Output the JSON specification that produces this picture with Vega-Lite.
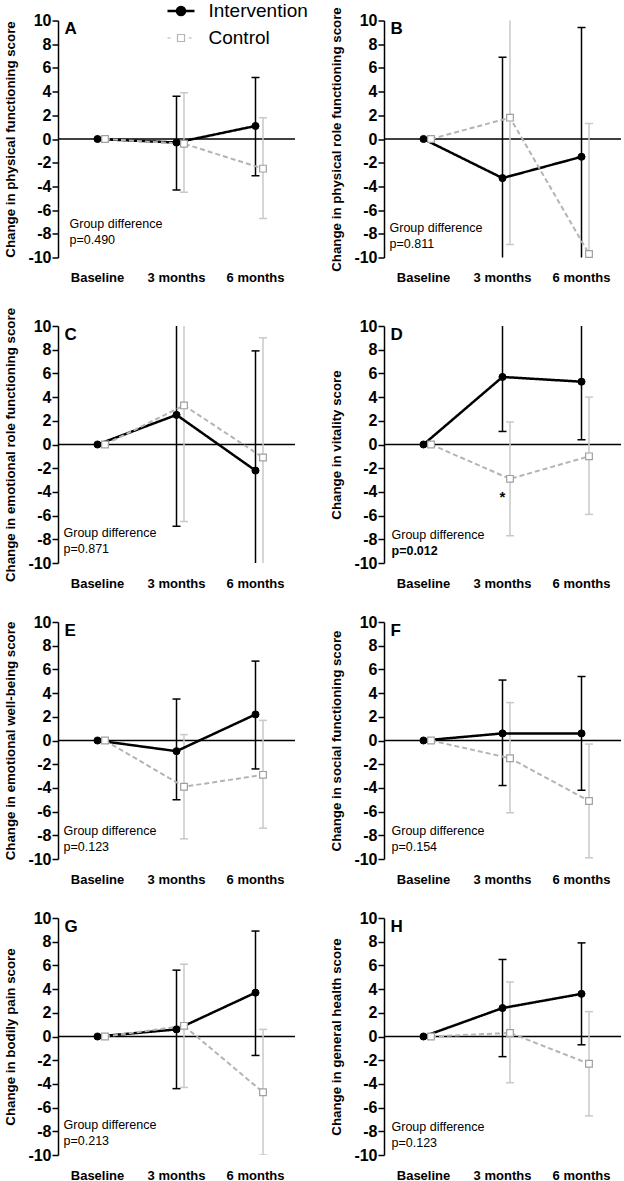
{
  "$schema": "https://vega.github.io/schema/vega-lite/v6.json",
  "autosize": {"type": "pad"},
  "padding": {"left": 3, "top": 1.5, "right": 2, "bottom": 5},
  "background": "#ffffff",
  "datasets": {
    "stats": [
      {"panel": "A", "group": "Intervention", "visit": "Baseline", "month": 0, "mean": 0, "lo": null, "hi": null},
      {"panel": "A", "group": "Intervention", "visit": "3 months", "month": 3, "mean": -0.3, "lo": -4.3, "hi": 3.6},
      {"panel": "A", "group": "Intervention", "visit": "6 months", "month": 6, "mean": 1.1, "lo": -3.1, "hi": 5.2},
      {"panel": "A", "group": "Control", "visit": "Baseline", "month": 0, "mean": 0, "lo": null, "hi": null},
      {"panel": "A", "group": "Control", "visit": "3 months", "month": 3, "mean": -0.4, "lo": -4.5, "hi": 3.9},
      {"panel": "A", "group": "Control", "visit": "6 months", "month": 6, "mean": -2.5, "lo": -6.7, "hi": 1.8},
      {"panel": "B", "group": "Intervention", "visit": "Baseline", "month": 0, "mean": 0, "lo": null, "hi": null},
      {"panel": "B", "group": "Intervention", "visit": "3 months", "month": 3, "mean": -3.3, "lo": -13.5, "hi": 6.9},
      {"panel": "B", "group": "Intervention", "visit": "6 months", "month": 6, "mean": -1.5, "lo": -12.4, "hi": 9.4},
      {"panel": "B", "group": "Control", "visit": "Baseline", "month": 0, "mean": 0, "lo": null, "hi": null},
      {"panel": "B", "group": "Control", "visit": "3 months", "month": 3, "mean": 1.8, "lo": -8.9, "hi": 12.5},
      {"panel": "B", "group": "Control", "visit": "6 months", "month": 6, "mean": -9.7, "lo": -20.7, "hi": 1.3},
      {"panel": "C", "group": "Intervention", "visit": "Baseline", "month": 0, "mean": 0, "lo": null, "hi": null},
      {"panel": "C", "group": "Intervention", "visit": "3 months", "month": 3, "mean": 2.5, "lo": -6.9, "hi": 11.9},
      {"panel": "C", "group": "Intervention", "visit": "6 months", "month": 6, "mean": -2.2, "lo": -12.3, "hi": 7.9},
      {"panel": "C", "group": "Control", "visit": "Baseline", "month": 0, "mean": 0, "lo": null, "hi": null},
      {"panel": "C", "group": "Control", "visit": "3 months", "month": 3, "mean": 3.3, "lo": -6.5, "hi": 13.1},
      {"panel": "C", "group": "Control", "visit": "6 months", "month": 6, "mean": -1.1, "lo": -11.2, "hi": 9.0},
      {"panel": "D", "group": "Intervention", "visit": "Baseline", "month": 0, "mean": 0, "lo": null, "hi": null},
      {"panel": "D", "group": "Intervention", "visit": "3 months", "month": 3, "mean": 5.7, "lo": 1.1, "hi": 10.3},
      {"panel": "D", "group": "Intervention", "visit": "6 months", "month": 6, "mean": 5.3, "lo": 0.4, "hi": 10.2},
      {"panel": "D", "group": "Control", "visit": "Baseline", "month": 0, "mean": 0, "lo": null, "hi": null},
      {"panel": "D", "group": "Control", "visit": "3 months", "month": 3, "mean": -2.9, "lo": -7.7, "hi": 1.9},
      {"panel": "D", "group": "Control", "visit": "6 months", "month": 6, "mean": -1.0, "lo": -5.9, "hi": 4.0},
      {"panel": "E", "group": "Intervention", "visit": "Baseline", "month": 0, "mean": 0, "lo": null, "hi": null},
      {"panel": "E", "group": "Intervention", "visit": "3 months", "month": 3, "mean": -0.9, "lo": -5.0, "hi": 3.5},
      {"panel": "E", "group": "Intervention", "visit": "6 months", "month": 6, "mean": 2.2, "lo": -2.4, "hi": 6.7},
      {"panel": "E", "group": "Control", "visit": "Baseline", "month": 0, "mean": 0, "lo": null, "hi": null},
      {"panel": "E", "group": "Control", "visit": "3 months", "month": 3, "mean": -3.9, "lo": -8.3, "hi": 0.5},
      {"panel": "E", "group": "Control", "visit": "6 months", "month": 6, "mean": -2.9, "lo": -7.4, "hi": 1.7},
      {"panel": "F", "group": "Intervention", "visit": "Baseline", "month": 0, "mean": 0, "lo": null, "hi": null},
      {"panel": "F", "group": "Intervention", "visit": "3 months", "month": 3, "mean": 0.6, "lo": -3.8, "hi": 5.1},
      {"panel": "F", "group": "Intervention", "visit": "6 months", "month": 6, "mean": 0.6, "lo": -4.2, "hi": 5.4},
      {"panel": "F", "group": "Control", "visit": "Baseline", "month": 0, "mean": 0, "lo": null, "hi": null},
      {"panel": "F", "group": "Control", "visit": "3 months", "month": 3, "mean": -1.5, "lo": -6.1, "hi": 3.2},
      {"panel": "F", "group": "Control", "visit": "6 months", "month": 6, "mean": -5.1, "lo": -9.9, "hi": -0.3},
      {"panel": "G", "group": "Intervention", "visit": "Baseline", "month": 0, "mean": 0, "lo": null, "hi": null},
      {"panel": "G", "group": "Intervention", "visit": "3 months", "month": 3, "mean": 0.6, "lo": -4.4, "hi": 5.6},
      {"panel": "G", "group": "Intervention", "visit": "6 months", "month": 6, "mean": 3.7, "lo": -1.6, "hi": 8.9},
      {"panel": "G", "group": "Control", "visit": "Baseline", "month": 0, "mean": 0, "lo": null, "hi": null},
      {"panel": "G", "group": "Control", "visit": "3 months", "month": 3, "mean": 0.9, "lo": -4.3, "hi": 6.1},
      {"panel": "G", "group": "Control", "visit": "6 months", "month": 6, "mean": -4.7, "lo": -10.0, "hi": 0.6},
      {"panel": "H", "group": "Intervention", "visit": "Baseline", "month": 0, "mean": 0, "lo": null, "hi": null},
      {"panel": "H", "group": "Intervention", "visit": "3 months", "month": 3, "mean": 2.4, "lo": -1.7, "hi": 6.5},
      {"panel": "H", "group": "Intervention", "visit": "6 months", "month": 6, "mean": 3.6, "lo": -0.7, "hi": 7.9},
      {"panel": "H", "group": "Control", "visit": "Baseline", "month": 0, "mean": 0, "lo": null, "hi": null},
      {"panel": "H", "group": "Control", "visit": "3 months", "month": 3, "mean": 0.3, "lo": -3.9, "hi": 4.6},
      {"panel": "H", "group": "Control", "visit": "6 months", "month": 6, "mean": -2.3, "lo": -6.7, "hi": 2.1}
    ],
    "notes": [
      {"panel": "A", "letter": "A", "p": "p=0.490"},
      {"panel": "B", "letter": "B", "p": "p=0.811"},
      {"panel": "C", "letter": "C", "p": "p=0.871"},
      {"panel": "D", "letter": "D", "p": "p=0.012"},
      {"panel": "E", "letter": "E", "p": "p=0.123"},
      {"panel": "F", "letter": "F", "p": "p=0.154"},
      {"panel": "G", "letter": "G", "p": "p=0.213"},
      {"panel": "H", "letter": "H", "p": "p=0.123"}
    ]
  },
  "vconcat": [
    {
      "hconcat": [
        {
          "width": 237, "height": 237,
          "layer": [
            {
              "data": {"name": "notes"},
              "transform": [{"filter": "datum.panel === 'A'"}],
              "layer": [
                {"mark": {"type": "rule", "color": "#000000", "strokeWidth": 1.5}, "encoding": {"y": {"datum": 0, "type": "quantitative", "scale": {"domain": [-10, 10], "nice": false, "zero": false}, "axis": {"title": "Change in physical functioning score", "values": [-10, -8, -6, -4, -2, 0, 2, 4, 6, 8, 10], "tickCount": 11, "labelOverlap": false, "labelExpr": "'' + datum.value"}}}},
                {"mark": {"type": "text", "align": "left", "baseline": "alphabetic", "dx": -33, "dy": 13.5, "fontSize": 17, "fontWeight": "bold"}, "encoding": {"x": {"datum": "Baseline", "type": "nominal", "scale": {"type": "band", "domain": ["Baseline", "3 months", "6 months"], "paddingInner": 0, "paddingOuter": 0}}, "y": {"datum": 10, "type": "quantitative"}, "text": {"field": "letter"}}},
                {"mark": {"type": "text", "align": "left", "baseline": "middle", "dx": -28, "fontSize": 12.5}, "encoding": {"x": {"datum": "Baseline", "type": "nominal"}, "y": {"datum": -7.2, "type": "quantitative"}, "text": {"value": "Group difference"}}},
                {"mark": {"type": "text", "align": "left", "baseline": "middle", "dx": -28, "dy": 16, "fontSize": 12.5}, "encoding": {"x": {"datum": "Baseline", "type": "nominal"}, "y": {"datum": -7.2, "type": "quantitative"}, "text": {"field": "p"}}}
              ]
            },
            {
              "data": {"name": "stats"},
              "transform": [{"filter": "datum.panel === 'A'"}],
              "encoding": {
                "x": {"field": "visit", "type": "nominal", "title": null, "sort": ["Baseline", "3 months", "6 months"], "scale": {"type": "band", "domain": ["Baseline", "3 months", "6 months"], "paddingInner": 0, "paddingOuter": 0}},
                "xOffset": {"field": "group", "type": "nominal", "scale": {"domain": ["Intervention", "Control"], "range": [35.75, 50.75], "paddingInner": 0, "paddingOuter": 0}}
              },
              "layer": [
                {"transform": [{"filter": "isValid(datum.lo)"}], "mark": {"type": "rule", "clip": true, "strokeWidth": 1.5}, "encoding": {"y": {"field": "lo", "type": "quantitative"}, "y2": {"field": "hi"}, "color": {"condition": {"test": "datum.group === 'Control'", "value": "#c9c9c9"}, "value": "#000000"}}},
                {"transform": [{"filter": "isValid(datum.lo)"}, {"fold": ["lo", "hi"], "as": ["end", "v"]}], "mark": {"type": "tick", "clip": true, "thickness": 1.5, "size": 8, "orient": "horizontal", "opacity": 1}, "encoding": {"y": {"field": "v", "type": "quantitative"}, "color": {"condition": {"test": "datum.group === 'Control'", "value": "#c9c9c9"}, "value": "#000000"}}},
                {"mark": {"type": "line", "clip": true}, "encoding": {"y": {"field": "mean", "type": "quantitative"}, "order": {"field": "month", "type": "quantitative"}, "color": {"field": "group", "type": "nominal", "scale": {"domain": ["Intervention", "Control"], "range": ["#000000", "#b4b4b4"]}, "legend": {"orient": "none", "legendX": 113.5, "legendY": -19, "title": null, "labelFontSize": 19, "labelFont": "Liberation Sans", "labelColor": "#000000", "labelOffset": 18, "symbolSize": 729, "rowPadding": 7, "symbolType": "M-1,0H1", "symbolStrokeWidth": 2.5, "encode": {"symbols": {"update": {"shape": {"signal": "datum.value === 'Intervention' ? 'M-1,0H1M0.3,0A0.3,0.3,0,1,1,-0.3,0A0.3,0.3,0,1,1,0.3,0Z' : 'M-1,0H-0.78M0.57,0H0.79M-0.26,-0.26H0.26V0.26H-0.26Z'"}, "fill": {"signal": "datum.value === 'Intervention' ? '#000000' : '#ffffff'"}, "strokeWidth": {"signal": "datum.value === 'Intervention' ? 2.5 : 1.2"}, "strokeDash": {"value": []}}}}}}, "strokeDash": {"condition": {"test": "datum.group === 'Control'", "value": [5, 3]}, "value": [1, 0]}, "strokeWidth": {"condition": {"test": "datum.group === 'Control'", "value": 2}, "value": 2.5}}},
                {"mark": {"type": "point", "opacity": 1, "filled": true}, "encoding": {"y": {"field": "mean", "type": "quantitative"}, "shape": {"condition": {"test": "datum.group === 'Control'", "value": "square"}, "value": "circle"}, "fill": {"condition": {"test": "datum.group === 'Control'", "value": "#ffffff"}, "value": "#000000"}, "stroke": {"condition": {"test": "datum.group === 'Control'", "value": "#a0a0a0"}, "value": "#000000"}, "size": {"condition": {"test": "datum.group === 'Control'", "value": 45}, "value": 50}, "strokeWidth": {"condition": {"test": "datum.group === 'Control'", "value": 1.2}, "value": 1}}}
              ]
            }
          ]
        },
        {
          "width": 237, "height": 237,
          "layer": [
            {
              "data": {"name": "notes"},
              "transform": [{"filter": "datum.panel === 'B'"}],
              "layer": [
                {"mark": {"type": "rule", "color": "#000000", "strokeWidth": 1.5}, "encoding": {"y": {"datum": 0, "type": "quantitative", "scale": {"domain": [-10, 10], "nice": false, "zero": false}, "axis": {"title": "Change in physical role functioning score", "values": [-10, -8, -6, -4, -2, 0, 2, 4, 6, 8, 10], "tickCount": 11, "labelOverlap": false, "labelExpr": "'' + datum.value"}}}},
                {"mark": {"type": "text", "align": "left", "baseline": "alphabetic", "dx": -33, "dy": 13.5, "fontSize": 17, "fontWeight": "bold"}, "encoding": {"x": {"datum": "Baseline", "type": "nominal", "scale": {"type": "band", "domain": ["Baseline", "3 months", "6 months"], "paddingInner": 0, "paddingOuter": 0}}, "y": {"datum": 10, "type": "quantitative"}, "text": {"field": "letter"}}},
                {"mark": {"type": "text", "align": "left", "baseline": "middle", "dx": -34, "fontSize": 12.5}, "encoding": {"x": {"datum": "Baseline", "type": "nominal"}, "y": {"datum": -7.5, "type": "quantitative"}, "text": {"value": "Group difference"}}},
                {"mark": {"type": "text", "align": "left", "baseline": "middle", "dx": -34, "dy": 16, "fontSize": 12.5}, "encoding": {"x": {"datum": "Baseline", "type": "nominal"}, "y": {"datum": -7.5, "type": "quantitative"}, "text": {"field": "p"}}}
              ]
            },
            {
              "data": {"name": "stats"},
              "transform": [{"filter": "datum.panel === 'B'"}],
              "encoding": {
                "x": {"field": "visit", "type": "nominal", "title": null, "sort": ["Baseline", "3 months", "6 months"], "scale": {"type": "band", "domain": ["Baseline", "3 months", "6 months"], "paddingInner": 0, "paddingOuter": 0}},
                "xOffset": {"field": "group", "type": "nominal", "scale": {"domain": ["Intervention", "Control"], "range": [35.75, 50.75], "paddingInner": 0, "paddingOuter": 0}}
              },
              "layer": [
                {"transform": [{"filter": "isValid(datum.lo)"}], "mark": {"type": "rule", "clip": true, "strokeWidth": 1.5}, "encoding": {"y": {"field": "lo", "type": "quantitative"}, "y2": {"field": "hi"}, "color": {"condition": {"test": "datum.group === 'Control'", "value": "#c9c9c9"}, "value": "#000000"}}},
                {"transform": [{"filter": "isValid(datum.lo)"}, {"fold": ["lo", "hi"], "as": ["end", "v"]}], "mark": {"type": "tick", "clip": true, "thickness": 1.5, "size": 8, "orient": "horizontal", "opacity": 1}, "encoding": {"y": {"field": "v", "type": "quantitative"}, "color": {"condition": {"test": "datum.group === 'Control'", "value": "#c9c9c9"}, "value": "#000000"}}},
                {"mark": {"type": "line", "clip": true}, "encoding": {"y": {"field": "mean", "type": "quantitative"}, "order": {"field": "month", "type": "quantitative"}, "color": {"field": "group", "type": "nominal", "scale": {"domain": ["Intervention", "Control"], "range": ["#000000", "#b4b4b4"]}, "legend": null}, "strokeDash": {"condition": {"test": "datum.group === 'Control'", "value": [5, 3]}, "value": [1, 0]}, "strokeWidth": {"condition": {"test": "datum.group === 'Control'", "value": 2}, "value": 2.5}}},
                {"mark": {"type": "point", "opacity": 1, "filled": true}, "encoding": {"y": {"field": "mean", "type": "quantitative"}, "shape": {"condition": {"test": "datum.group === 'Control'", "value": "square"}, "value": "circle"}, "fill": {"condition": {"test": "datum.group === 'Control'", "value": "#ffffff"}, "value": "#000000"}, "stroke": {"condition": {"test": "datum.group === 'Control'", "value": "#a0a0a0"}, "value": "#000000"}, "size": {"condition": {"test": "datum.group === 'Control'", "value": 45}, "value": 50}, "strokeWidth": {"condition": {"test": "datum.group === 'Control'", "value": 1.2}, "value": 1}}}
              ]
            }
          ]
        }
      ],
      "spacing": 89, "bounds": "flush"
    },
    {
      "concat": [
        {
          "width": 237, "height": 237,
          "layer": [
            {
              "data": {"name": "notes"},
              "transform": [{"filter": "datum.panel === 'C'"}],
              "layer": [
                {"mark": {"type": "rule", "color": "#000000", "strokeWidth": 1.5}, "encoding": {"y": {"datum": 0, "type": "quantitative", "scale": {"domain": [-10, 10], "nice": false, "zero": false}, "axis": {"title": "Change in emotional role functioning score", "values": [-10, -8, -6, -4, -2, 0, 2, 4, 6, 8, 10], "tickCount": 11, "labelOverlap": false, "labelExpr": "'' + datum.value"}}}},
                {"mark": {"type": "text", "align": "left", "baseline": "alphabetic", "dx": -33, "dy": 13.5, "fontSize": 17, "fontWeight": "bold"}, "encoding": {"x": {"datum": "Baseline", "type": "nominal", "scale": {"type": "band", "domain": ["Baseline", "3 months", "6 months"], "paddingInner": 0, "paddingOuter": 0}}, "y": {"datum": 10, "type": "quantitative"}, "text": {"field": "letter"}}},
                {"mark": {"type": "text", "align": "left", "baseline": "middle", "dx": -34, "fontSize": 12.5}, "encoding": {"x": {"datum": "Baseline", "type": "nominal"}, "y": {"datum": -7.5, "type": "quantitative"}, "text": {"value": "Group difference"}}},
                {"mark": {"type": "text", "align": "left", "baseline": "middle", "dx": -34, "dy": 16, "fontSize": 12.5}, "encoding": {"x": {"datum": "Baseline", "type": "nominal"}, "y": {"datum": -7.5, "type": "quantitative"}, "text": {"field": "p"}}}
              ]
            },
            {
              "data": {"name": "stats"},
              "transform": [{"filter": "datum.panel === 'C'"}],
              "encoding": {
                "x": {"field": "visit", "type": "nominal", "title": null, "sort": ["Baseline", "3 months", "6 months"], "scale": {"type": "band", "domain": ["Baseline", "3 months", "6 months"], "paddingInner": 0, "paddingOuter": 0}},
                "xOffset": {"field": "group", "type": "nominal", "scale": {"domain": ["Intervention", "Control"], "range": [35.75, 50.75], "paddingInner": 0, "paddingOuter": 0}}
              },
              "layer": [
                {"transform": [{"filter": "isValid(datum.lo)"}], "mark": {"type": "rule", "clip": true, "strokeWidth": 1.5}, "encoding": {"y": {"field": "lo", "type": "quantitative"}, "y2": {"field": "hi"}, "color": {"condition": {"test": "datum.group === 'Control'", "value": "#c9c9c9"}, "value": "#000000"}}},
                {"transform": [{"filter": "isValid(datum.lo)"}, {"fold": ["lo", "hi"], "as": ["end", "v"]}], "mark": {"type": "tick", "clip": true, "thickness": 1.5, "size": 8, "orient": "horizontal", "opacity": 1}, "encoding": {"y": {"field": "v", "type": "quantitative"}, "color": {"condition": {"test": "datum.group === 'Control'", "value": "#c9c9c9"}, "value": "#000000"}}},
                {"mark": {"type": "line", "clip": true}, "encoding": {"y": {"field": "mean", "type": "quantitative"}, "order": {"field": "month", "type": "quantitative"}, "color": {"field": "group", "type": "nominal", "scale": {"domain": ["Intervention", "Control"], "range": ["#000000", "#b4b4b4"]}, "legend": null}, "strokeDash": {"condition": {"test": "datum.group === 'Control'", "value": [5, 3]}, "value": [1, 0]}, "strokeWidth": {"condition": {"test": "datum.group === 'Control'", "value": 2}, "value": 2.5}}},
                {"mark": {"type": "point", "opacity": 1, "filled": true}, "encoding": {"y": {"field": "mean", "type": "quantitative"}, "shape": {"condition": {"test": "datum.group === 'Control'", "value": "square"}, "value": "circle"}, "fill": {"condition": {"test": "datum.group === 'Control'", "value": "#ffffff"}, "value": "#000000"}, "stroke": {"condition": {"test": "datum.group === 'Control'", "value": "#a0a0a0"}, "value": "#000000"}, "size": {"condition": {"test": "datum.group === 'Control'", "value": 45}, "value": 50}, "strokeWidth": {"condition": {"test": "datum.group === 'Control'", "value": 1.2}, "value": 1}}}
              ]
            }
          ]
        },
        {
          "width": 237, "height": 237,
          "layer": [
            {
              "data": {"name": "notes"},
              "transform": [{"filter": "datum.panel === 'D'"}],
              "layer": [
                {"mark": {"type": "rule", "color": "#000000", "strokeWidth": 1.5}, "encoding": {"y": {"datum": 0, "type": "quantitative", "scale": {"domain": [-10, 10], "nice": false, "zero": false}, "axis": {"title": "Change in vitality score", "values": [-10, -8, -6, -4, -2, 0, 2, 4, 6, 8, 10], "tickCount": 11, "labelOverlap": false, "labelExpr": "'' + datum.value"}}}},
                {"mark": {"type": "text", "align": "left", "baseline": "alphabetic", "dx": -33, "dy": 13.5, "fontSize": 17, "fontWeight": "bold"}, "encoding": {"x": {"datum": "Baseline", "type": "nominal", "scale": {"type": "band", "domain": ["Baseline", "3 months", "6 months"], "paddingInner": 0, "paddingOuter": 0}}, "y": {"datum": 10, "type": "quantitative"}, "text": {"field": "letter"}}},
                {"mark": {"type": "text", "align": "left", "baseline": "middle", "dx": -32, "fontSize": 12.5}, "encoding": {"x": {"datum": "Baseline", "type": "nominal"}, "y": {"datum": -7.6, "type": "quantitative"}, "text": {"value": "Group difference"}}},
                {"mark": {"type": "text", "align": "left", "baseline": "middle", "dx": -32, "dy": 16, "fontSize": 12.5, "fontWeight": "bold"}, "encoding": {"x": {"datum": "Baseline", "type": "nominal"}, "y": {"datum": -7.6, "type": "quantitative"}, "text": {"field": "p"}}},
                {"mark": {"type": "text", "align": "center", "baseline": "alphabetic", "dy": -2, "fontSize": 15, "fontWeight": "bold"}, "encoding": {"x": {"datum": "3 months", "type": "nominal"}, "y": {"datum": -5, "type": "quantitative"}, "text": {"value": "*"}}}
              ]
            },
            {
              "data": {"name": "stats"},
              "transform": [{"filter": "datum.panel === 'D'"}],
              "encoding": {
                "x": {"field": "visit", "type": "nominal", "title": null, "sort": ["Baseline", "3 months", "6 months"], "scale": {"type": "band", "domain": ["Baseline", "3 months", "6 months"], "paddingInner": 0, "paddingOuter": 0}},
                "xOffset": {"field": "group", "type": "nominal", "scale": {"domain": ["Intervention", "Control"], "range": [35.75, 50.75], "paddingInner": 0, "paddingOuter": 0}}
              },
              "layer": [
                {"transform": [{"filter": "isValid(datum.lo)"}], "mark": {"type": "rule", "clip": true, "strokeWidth": 1.5}, "encoding": {"y": {"field": "lo", "type": "quantitative"}, "y2": {"field": "hi"}, "color": {"condition": {"test": "datum.group === 'Control'", "value": "#c9c9c9"}, "value": "#000000"}}},
                {"transform": [{"filter": "isValid(datum.lo)"}, {"fold": ["lo", "hi"], "as": ["end", "v"]}], "mark": {"type": "tick", "clip": true, "thickness": 1.5, "size": 8, "orient": "horizontal", "opacity": 1}, "encoding": {"y": {"field": "v", "type": "quantitative"}, "color": {"condition": {"test": "datum.group === 'Control'", "value": "#c9c9c9"}, "value": "#000000"}}},
                {"mark": {"type": "line", "clip": true}, "encoding": {"y": {"field": "mean", "type": "quantitative"}, "order": {"field": "month", "type": "quantitative"}, "color": {"field": "group", "type": "nominal", "scale": {"domain": ["Intervention", "Control"], "range": ["#000000", "#b4b4b4"]}, "legend": null}, "strokeDash": {"condition": {"test": "datum.group === 'Control'", "value": [5, 3]}, "value": [1, 0]}, "strokeWidth": {"condition": {"test": "datum.group === 'Control'", "value": 2}, "value": 2.5}}},
                {"mark": {"type": "point", "opacity": 1, "filled": true}, "encoding": {"y": {"field": "mean", "type": "quantitative"}, "shape": {"condition": {"test": "datum.group === 'Control'", "value": "square"}, "value": "circle"}, "fill": {"condition": {"test": "datum.group === 'Control'", "value": "#ffffff"}, "value": "#000000"}, "stroke": {"condition": {"test": "datum.group === 'Control'", "value": "#a0a0a0"}, "value": "#000000"}, "size": {"condition": {"test": "datum.group === 'Control'", "value": 45}, "value": 50}, "strokeWidth": {"condition": {"test": "datum.group === 'Control'", "value": 1.2}, "value": 1}}}
              ]
            }
          ]
        },
        {
          "width": 237, "height": 237,
          "layer": [
            {
              "data": {"name": "notes"},
              "transform": [{"filter": "datum.panel === 'E'"}],
              "layer": [
                {"mark": {"type": "rule", "color": "#000000", "strokeWidth": 1.5}, "encoding": {"y": {"datum": 0, "type": "quantitative", "scale": {"domain": [-10, 10], "nice": false, "zero": false}, "axis": {"title": "Change in emotional well-being score", "values": [-10, -8, -6, -4, -2, 0, 2, 4, 6, 8, 10], "tickCount": 11, "labelOverlap": false, "labelExpr": "'' + datum.value"}}}},
                {"mark": {"type": "text", "align": "left", "baseline": "alphabetic", "dx": -33, "dy": 13.5, "fontSize": 17, "fontWeight": "bold"}, "encoding": {"x": {"datum": "Baseline", "type": "nominal", "scale": {"type": "band", "domain": ["Baseline", "3 months", "6 months"], "paddingInner": 0, "paddingOuter": 0}}, "y": {"datum": 10, "type": "quantitative"}, "text": {"field": "letter"}}},
                {"mark": {"type": "text", "align": "left", "baseline": "middle", "dx": -34, "fontSize": 12.5}, "encoding": {"x": {"datum": "Baseline", "type": "nominal"}, "y": {"datum": -7.6, "type": "quantitative"}, "text": {"value": "Group difference"}}},
                {"mark": {"type": "text", "align": "left", "baseline": "middle", "dx": -34, "dy": 16, "fontSize": 12.5}, "encoding": {"x": {"datum": "Baseline", "type": "nominal"}, "y": {"datum": -7.6, "type": "quantitative"}, "text": {"field": "p"}}}
              ]
            },
            {
              "data": {"name": "stats"},
              "transform": [{"filter": "datum.panel === 'E'"}],
              "encoding": {
                "x": {"field": "visit", "type": "nominal", "title": null, "sort": ["Baseline", "3 months", "6 months"], "scale": {"type": "band", "domain": ["Baseline", "3 months", "6 months"], "paddingInner": 0, "paddingOuter": 0}},
                "xOffset": {"field": "group", "type": "nominal", "scale": {"domain": ["Intervention", "Control"], "range": [35.75, 50.75], "paddingInner": 0, "paddingOuter": 0}}
              },
              "layer": [
                {"transform": [{"filter": "isValid(datum.lo)"}], "mark": {"type": "rule", "clip": true, "strokeWidth": 1.5}, "encoding": {"y": {"field": "lo", "type": "quantitative"}, "y2": {"field": "hi"}, "color": {"condition": {"test": "datum.group === 'Control'", "value": "#c9c9c9"}, "value": "#000000"}}},
                {"transform": [{"filter": "isValid(datum.lo)"}, {"fold": ["lo", "hi"], "as": ["end", "v"]}], "mark": {"type": "tick", "clip": true, "thickness": 1.5, "size": 8, "orient": "horizontal", "opacity": 1}, "encoding": {"y": {"field": "v", "type": "quantitative"}, "color": {"condition": {"test": "datum.group === 'Control'", "value": "#c9c9c9"}, "value": "#000000"}}},
                {"mark": {"type": "line", "clip": true}, "encoding": {"y": {"field": "mean", "type": "quantitative"}, "order": {"field": "month", "type": "quantitative"}, "color": {"field": "group", "type": "nominal", "scale": {"domain": ["Intervention", "Control"], "range": ["#000000", "#b4b4b4"]}, "legend": null}, "strokeDash": {"condition": {"test": "datum.group === 'Control'", "value": [5, 3]}, "value": [1, 0]}, "strokeWidth": {"condition": {"test": "datum.group === 'Control'", "value": 2}, "value": 2.5}}},
                {"mark": {"type": "point", "opacity": 1, "filled": true}, "encoding": {"y": {"field": "mean", "type": "quantitative"}, "shape": {"condition": {"test": "datum.group === 'Control'", "value": "square"}, "value": "circle"}, "fill": {"condition": {"test": "datum.group === 'Control'", "value": "#ffffff"}, "value": "#000000"}, "stroke": {"condition": {"test": "datum.group === 'Control'", "value": "#a0a0a0"}, "value": "#000000"}, "size": {"condition": {"test": "datum.group === 'Control'", "value": 45}, "value": 50}, "strokeWidth": {"condition": {"test": "datum.group === 'Control'", "value": 1.2}, "value": 1}}}
              ]
            }
          ]
        },
        {
          "width": 237, "height": 237,
          "layer": [
            {
              "data": {"name": "notes"},
              "transform": [{"filter": "datum.panel === 'F'"}],
              "layer": [
                {"mark": {"type": "rule", "color": "#000000", "strokeWidth": 1.5}, "encoding": {"y": {"datum": 0, "type": "quantitative", "scale": {"domain": [-10, 10], "nice": false, "zero": false}, "axis": {"title": "Change in social functioning score", "values": [-10, -8, -6, -4, -2, 0, 2, 4, 6, 8, 10], "tickCount": 11, "labelOverlap": false, "labelExpr": "'' + datum.value"}}}},
                {"mark": {"type": "text", "align": "left", "baseline": "alphabetic", "dx": -33, "dy": 13.5, "fontSize": 17, "fontWeight": "bold"}, "encoding": {"x": {"datum": "Baseline", "type": "nominal", "scale": {"type": "band", "domain": ["Baseline", "3 months", "6 months"], "paddingInner": 0, "paddingOuter": 0}}, "y": {"datum": 10, "type": "quantitative"}, "text": {"field": "letter"}}},
                {"mark": {"type": "text", "align": "left", "baseline": "middle", "dx": -32, "fontSize": 12.5}, "encoding": {"x": {"datum": "Baseline", "type": "nominal"}, "y": {"datum": -7.6, "type": "quantitative"}, "text": {"value": "Group difference"}}},
                {"mark": {"type": "text", "align": "left", "baseline": "middle", "dx": -32, "dy": 16, "fontSize": 12.5}, "encoding": {"x": {"datum": "Baseline", "type": "nominal"}, "y": {"datum": -7.6, "type": "quantitative"}, "text": {"field": "p"}}}
              ]
            },
            {
              "data": {"name": "stats"},
              "transform": [{"filter": "datum.panel === 'F'"}],
              "encoding": {
                "x": {"field": "visit", "type": "nominal", "title": null, "sort": ["Baseline", "3 months", "6 months"], "scale": {"type": "band", "domain": ["Baseline", "3 months", "6 months"], "paddingInner": 0, "paddingOuter": 0}},
                "xOffset": {"field": "group", "type": "nominal", "scale": {"domain": ["Intervention", "Control"], "range": [35.75, 50.75], "paddingInner": 0, "paddingOuter": 0}}
              },
              "layer": [
                {"transform": [{"filter": "isValid(datum.lo)"}], "mark": {"type": "rule", "clip": true, "strokeWidth": 1.5}, "encoding": {"y": {"field": "lo", "type": "quantitative"}, "y2": {"field": "hi"}, "color": {"condition": {"test": "datum.group === 'Control'", "value": "#c9c9c9"}, "value": "#000000"}}},
                {"transform": [{"filter": "isValid(datum.lo)"}, {"fold": ["lo", "hi"], "as": ["end", "v"]}], "mark": {"type": "tick", "clip": true, "thickness": 1.5, "size": 8, "orient": "horizontal", "opacity": 1}, "encoding": {"y": {"field": "v", "type": "quantitative"}, "color": {"condition": {"test": "datum.group === 'Control'", "value": "#c9c9c9"}, "value": "#000000"}}},
                {"mark": {"type": "line", "clip": true}, "encoding": {"y": {"field": "mean", "type": "quantitative"}, "order": {"field": "month", "type": "quantitative"}, "color": {"field": "group", "type": "nominal", "scale": {"domain": ["Intervention", "Control"], "range": ["#000000", "#b4b4b4"]}, "legend": null}, "strokeDash": {"condition": {"test": "datum.group === 'Control'", "value": [5, 3]}, "value": [1, 0]}, "strokeWidth": {"condition": {"test": "datum.group === 'Control'", "value": 2}, "value": 2.5}}},
                {"mark": {"type": "point", "opacity": 1, "filled": true}, "encoding": {"y": {"field": "mean", "type": "quantitative"}, "shape": {"condition": {"test": "datum.group === 'Control'", "value": "square"}, "value": "circle"}, "fill": {"condition": {"test": "datum.group === 'Control'", "value": "#ffffff"}, "value": "#000000"}, "stroke": {"condition": {"test": "datum.group === 'Control'", "value": "#a0a0a0"}, "value": "#000000"}, "size": {"condition": {"test": "datum.group === 'Control'", "value": 45}, "value": 50}, "strokeWidth": {"condition": {"test": "datum.group === 'Control'", "value": 1.2}, "value": 1}}}
              ]
            }
          ]
        },
        {
          "width": 237, "height": 237,
          "layer": [
            {
              "data": {"name": "notes"},
              "transform": [{"filter": "datum.panel === 'G'"}],
              "layer": [
                {"mark": {"type": "rule", "color": "#000000", "strokeWidth": 1.5}, "encoding": {"y": {"datum": 0, "type": "quantitative", "scale": {"domain": [-10, 10], "nice": false, "zero": false}, "axis": {"title": "Change in bodily pain score", "values": [-10, -8, -6, -4, -2, 0, 2, 4, 6, 8, 10], "tickCount": 11, "labelOverlap": false, "labelExpr": "'' + datum.value"}}}},
                {"mark": {"type": "text", "align": "left", "baseline": "alphabetic", "dx": -33, "dy": 13.5, "fontSize": 17, "fontWeight": "bold"}, "encoding": {"x": {"datum": "Baseline", "type": "nominal", "scale": {"type": "band", "domain": ["Baseline", "3 months", "6 months"], "paddingInner": 0, "paddingOuter": 0}}, "y": {"datum": 10, "type": "quantitative"}, "text": {"field": "letter"}}},
                {"mark": {"type": "text", "align": "left", "baseline": "middle", "dx": -34, "fontSize": 12.5}, "encoding": {"x": {"datum": "Baseline", "type": "nominal"}, "y": {"datum": -7.5, "type": "quantitative"}, "text": {"value": "Group difference"}}},
                {"mark": {"type": "text", "align": "left", "baseline": "middle", "dx": -34, "dy": 16, "fontSize": 12.5}, "encoding": {"x": {"datum": "Baseline", "type": "nominal"}, "y": {"datum": -7.5, "type": "quantitative"}, "text": {"field": "p"}}}
              ]
            },
            {
              "data": {"name": "stats"},
              "transform": [{"filter": "datum.panel === 'G'"}],
              "encoding": {
                "x": {"field": "visit", "type": "nominal", "title": null, "sort": ["Baseline", "3 months", "6 months"], "scale": {"type": "band", "domain": ["Baseline", "3 months", "6 months"], "paddingInner": 0, "paddingOuter": 0}},
                "xOffset": {"field": "group", "type": "nominal", "scale": {"domain": ["Intervention", "Control"], "range": [35.75, 50.75], "paddingInner": 0, "paddingOuter": 0}}
              },
              "layer": [
                {"transform": [{"filter": "isValid(datum.lo)"}], "mark": {"type": "rule", "clip": true, "strokeWidth": 1.5}, "encoding": {"y": {"field": "lo", "type": "quantitative"}, "y2": {"field": "hi"}, "color": {"condition": {"test": "datum.group === 'Control'", "value": "#c9c9c9"}, "value": "#000000"}}},
                {"transform": [{"filter": "isValid(datum.lo)"}, {"fold": ["lo", "hi"], "as": ["end", "v"]}], "mark": {"type": "tick", "clip": true, "thickness": 1.5, "size": 8, "orient": "horizontal", "opacity": 1}, "encoding": {"y": {"field": "v", "type": "quantitative"}, "color": {"condition": {"test": "datum.group === 'Control'", "value": "#c9c9c9"}, "value": "#000000"}}},
                {"mark": {"type": "line", "clip": true}, "encoding": {"y": {"field": "mean", "type": "quantitative"}, "order": {"field": "month", "type": "quantitative"}, "color": {"field": "group", "type": "nominal", "scale": {"domain": ["Intervention", "Control"], "range": ["#000000", "#b4b4b4"]}, "legend": null}, "strokeDash": {"condition": {"test": "datum.group === 'Control'", "value": [5, 3]}, "value": [1, 0]}, "strokeWidth": {"condition": {"test": "datum.group === 'Control'", "value": 2}, "value": 2.5}}},
                {"mark": {"type": "point", "opacity": 1, "filled": true}, "encoding": {"y": {"field": "mean", "type": "quantitative"}, "shape": {"condition": {"test": "datum.group === 'Control'", "value": "square"}, "value": "circle"}, "fill": {"condition": {"test": "datum.group === 'Control'", "value": "#ffffff"}, "value": "#000000"}, "stroke": {"condition": {"test": "datum.group === 'Control'", "value": "#a0a0a0"}, "value": "#000000"}, "size": {"condition": {"test": "datum.group === 'Control'", "value": 45}, "value": 50}, "strokeWidth": {"condition": {"test": "datum.group === 'Control'", "value": 1.2}, "value": 1}}}
              ]
            }
          ]
        },
        {
          "width": 237, "height": 237,
          "layer": [
            {
              "data": {"name": "notes"},
              "transform": [{"filter": "datum.panel === 'H'"}],
              "layer": [
                {"mark": {"type": "rule", "color": "#000000", "strokeWidth": 1.5}, "encoding": {"y": {"datum": 0, "type": "quantitative", "scale": {"domain": [-10, 10], "nice": false, "zero": false}, "axis": {"title": "Change in general health score", "values": [-10, -8, -6, -4, -2, 0, 2, 4, 6, 8, 10], "tickCount": 11, "labelOverlap": false, "labelExpr": "'' + datum.value"}}}},
                {"mark": {"type": "text", "align": "left", "baseline": "alphabetic", "dx": -33, "dy": 13.5, "fontSize": 17, "fontWeight": "bold"}, "encoding": {"x": {"datum": "Baseline", "type": "nominal", "scale": {"type": "band", "domain": ["Baseline", "3 months", "6 months"], "paddingInner": 0, "paddingOuter": 0}}, "y": {"datum": 10, "type": "quantitative"}, "text": {"field": "letter"}}},
                {"mark": {"type": "text", "align": "left", "baseline": "middle", "dx": -32, "fontSize": 12.5}, "encoding": {"x": {"datum": "Baseline", "type": "nominal"}, "y": {"datum": -7.6, "type": "quantitative"}, "text": {"value": "Group difference"}}},
                {"mark": {"type": "text", "align": "left", "baseline": "middle", "dx": -32, "dy": 16, "fontSize": 12.5}, "encoding": {"x": {"datum": "Baseline", "type": "nominal"}, "y": {"datum": -7.6, "type": "quantitative"}, "text": {"field": "p"}}}
              ]
            },
            {
              "data": {"name": "stats"},
              "transform": [{"filter": "datum.panel === 'H'"}],
              "encoding": {
                "x": {"field": "visit", "type": "nominal", "title": null, "sort": ["Baseline", "3 months", "6 months"], "scale": {"type": "band", "domain": ["Baseline", "3 months", "6 months"], "paddingInner": 0, "paddingOuter": 0}},
                "xOffset": {"field": "group", "type": "nominal", "scale": {"domain": ["Intervention", "Control"], "range": [35.75, 50.75], "paddingInner": 0, "paddingOuter": 0}}
              },
              "layer": [
                {"transform": [{"filter": "isValid(datum.lo)"}], "mark": {"type": "rule", "clip": true, "strokeWidth": 1.5}, "encoding": {"y": {"field": "lo", "type": "quantitative"}, "y2": {"field": "hi"}, "color": {"condition": {"test": "datum.group === 'Control'", "value": "#c9c9c9"}, "value": "#000000"}}},
                {"transform": [{"filter": "isValid(datum.lo)"}, {"fold": ["lo", "hi"], "as": ["end", "v"]}], "mark": {"type": "tick", "clip": true, "thickness": 1.5, "size": 8, "orient": "horizontal", "opacity": 1}, "encoding": {"y": {"field": "v", "type": "quantitative"}, "color": {"condition": {"test": "datum.group === 'Control'", "value": "#c9c9c9"}, "value": "#000000"}}},
                {"mark": {"type": "line", "clip": true}, "encoding": {"y": {"field": "mean", "type": "quantitative"}, "order": {"field": "month", "type": "quantitative"}, "color": {"field": "group", "type": "nominal", "scale": {"domain": ["Intervention", "Control"], "range": ["#000000", "#b4b4b4"]}, "legend": null}, "strokeDash": {"condition": {"test": "datum.group === 'Control'", "value": [5, 3]}, "value": [1, 0]}, "strokeWidth": {"condition": {"test": "datum.group === 'Control'", "value": 2}, "value": 2.5}}},
                {"mark": {"type": "point", "opacity": 1, "filled": true}, "encoding": {"y": {"field": "mean", "type": "quantitative"}, "shape": {"condition": {"test": "datum.group === 'Control'", "value": "square"}, "value": "circle"}, "fill": {"condition": {"test": "datum.group === 'Control'", "value": "#ffffff"}, "value": "#000000"}, "stroke": {"condition": {"test": "datum.group === 'Control'", "value": "#a0a0a0"}, "value": "#000000"}, "size": {"condition": {"test": "datum.group === 'Control'", "value": 45}, "value": 50}, "strokeWidth": {"condition": {"test": "datum.group === 'Control'", "value": 1.2}, "value": 1}}}
              ]
            }
          ]
        }
      ],
      "columns": 2,
      "spacing": {"row": 59, "column": 89},
      "bounds": "flush"
    }
  ],
  "spacing": 22.5,
  "bounds": "full",
  "config": {
    "font": "Liberation Sans",
    "view": {"stroke": null},
    "text": {"color": "#000000", "font": "Liberation Sans"},
    "axisY": {"grid": false, "domainColor": "#000000", "domainWidth": 1.5, "tickColor": "#000000", "tickWidth": 1.5, "tickSize": 6, "tickCount": 11, "labelOverlap": false, "labelFont": "Liberation Sans", "labelFontSize": 16, "labelFontWeight": "bold", "labelColor": "#000000", "labelPadding": 1, "titleFont": "Liberation Sans", "titleFontSize": 13.3, "titleFontWeight": "bold", "titleColor": "#000000", "titlePadding": 10},
    "axisX": {"grid": false, "domain": false, "ticks": false, "labelAngle": 0, "labelFont": "Liberation Sans", "labelFontSize": 13, "labelFontWeight": "bold", "labelColor": "#000000", "labelPadding": 14}
  }
}
